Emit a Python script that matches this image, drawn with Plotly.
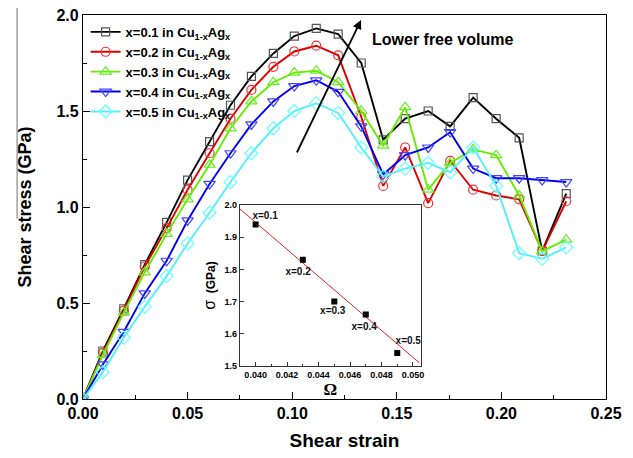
import plotly.graph_objects as go

# ---------------- data ----------------
strain = [0.0, 0.0095, 0.0195, 0.0295, 0.0400, 0.0500, 0.0605, 0.0705, 0.0805, 0.0910,
          0.1010, 0.1115, 0.1220, 0.1330, 0.1435, 0.1540, 0.1650, 0.1755, 0.1865, 0.1975,
          0.2085, 0.2195, 0.2310]

stress_01 = [0.0, 0.25, 0.47, 0.70, 0.92, 1.14, 1.34, 1.53, 1.68, 1.80, 1.89, 1.93, 1.90,
             1.75, 1.35, 1.46, 1.50, 1.42, 1.57, 1.46, 1.36, 0.77, 1.07]
stress_02 = [0.0, 0.24, 0.46, 0.69, 0.89, 1.09, 1.28, 1.46, 1.61, 1.73, 1.81, 1.84, 1.79,
             1.47, 1.11, 1.31, 1.02, 1.24, 1.09, 1.06, 1.04, 0.77, 1.03]
stress_03 = [0.0, 0.23, 0.45, 0.66, 0.86, 1.04, 1.22, 1.41, 1.55, 1.65, 1.70, 1.71, 1.65,
             1.50, 1.32, 1.52, 1.09, 1.23, 1.30, 1.27, 1.06, 0.77, 0.83]
stress_04 = [0.0, 0.18, 0.35, 0.55, 0.72, 0.93, 1.12, 1.28, 1.43, 1.55, 1.63, 1.66, 1.60,
             1.42, 1.17, 1.27, 1.31, 1.39, 1.20, 1.15, 1.15, 1.14, 1.13]
stress_05 = [0.0, 0.14, 0.32, 0.48, 0.64, 0.81, 0.97, 1.13, 1.28, 1.41, 1.50, 1.54, 1.49,
             1.31, 1.16, 1.20, 1.23, 1.18, 1.31, 1.11, 0.76, 0.73, 0.79]

series_names = ["x=0.1 in Cu<sub>1-x</sub>Ag<sub>x</sub>",
                "x=0.2 in Cu<sub>1-x</sub>Ag<sub>x</sub>",
                "x=0.3 in Cu<sub>1-x</sub>Ag<sub>x</sub>",
                "x=0.4 in Cu<sub>1-x</sub>Ag<sub>x</sub>",
                "x=0.5 in Cu<sub>1-x</sub>Ag<sub>x</sub>"]

# inset data
omega = [0.040, 0.043, 0.045, 0.047, 0.049]
sigma = [1.94, 1.83, 1.70, 1.66, 1.54]
inset_labels = ["x=0.1", "x=0.2", "x=0.3", "x=0.4", "x=0.5"]
inset_label_x = [0.0406, 0.0427, 0.0449, 0.0469, 0.0497]
inset_label_y = [1.966, 1.789, 1.668, 1.620, 1.575]
fit_x = [0.0390, 0.0504]
fit_y = [1.988, 1.510]

# ---------------- styles ----------------
FONT = "Arial, 'Liberation Sans', sans-serif"
line_colors = ["#000000", "#dd0000", "#66ee00", "#0000ee", "#55eeff"]
marker_colors = ["#555555", "#ee3333", "#66ee22", "#4444ff", "#66ffff"]
symbols = ["square-open", "circle-open", "triangle-up-open", "triangle-down-open", "diamond-open"]
msizes = [8, 9, 10, 10, 10]

fig = go.Figure()
all_series = [stress_01, stress_02, stress_03, stress_04, stress_05]
for i, ys in enumerate(all_series):
    fig.add_trace(go.Scatter(
        x=strain, y=ys, mode="lines+markers", name=series_names[i],
        line=dict(color=line_colors[i], width=1.9),
        marker=dict(symbol=symbols[i], size=msizes[i],
                    color=marker_colors[i], line=dict(color=marker_colors[i], width=1.2)),
        xaxis="x", yaxis="y"))

# inset traces
fig.add_trace(go.Scatter(x=fit_x, y=fit_y, mode="lines", showlegend=False,
                         line=dict(color="#e02020", width=1), xaxis="x2", yaxis="y2"))
fig.add_trace(go.Scatter(x=omega, y=sigma, mode="markers", showlegend=False,
                         marker=dict(symbol="square", size=6, color="black"),
                         xaxis="x2", yaxis="y2"))
fig.add_trace(go.Scatter(x=inset_label_x, y=inset_label_y, mode="text", text=inset_labels,
                         showlegend=False,
                         textfont=dict(family=FONT, size=10, color="#111", weight="bold"),
                         xaxis="x2", yaxis="y2"))

axis_common = dict(showline=True, linecolor="black", linewidth=1.2, mirror=True,
                   showgrid=False, zeroline=False, ticks="inside", tickcolor="black",
                   automargin=False, ticklabeloverflow="allow")

fig.update_layout(
    width=633, height=458,
    margin=dict(l=83, r=27, t=15, b=59),
    paper_bgcolor="white", plot_bgcolor="white",
    font=dict(family=FONT, color="black"),
    xaxis=dict(**axis_common, range=[0, 0.25], tickvals=[0, 0.05, 0.10, 0.15, 0.20, 0.25],
               ticktext=["0.00", "0.05", "0.10", "0.15", "0.20", "0.25"],
               ticklen=7, tickwidth=1.2,
               minor=dict(ticks="inside", ticklen=4, dtick=0.025, tickcolor="black"),
               tickfont=dict(size=16, family=FONT, weight="bold"),
               title=dict(text="<b>Shear strain</b>", font=dict(size=19, family=FONT), standoff=12),
               domain=[0, 1], anchor="y"),
    yaxis=dict(**axis_common, range=[0, 2.0], tickvals=[0, 0.5, 1.0, 1.5, 2.0],
               ticktext=["0.0", "0.5", "1.0", "1.5", "2.0"],
               ticklen=7, tickwidth=1.2,
               minor=dict(ticks="inside", ticklen=4, dtick=0.25, tickcolor="black"),
               tickfont=dict(size=16, family=FONT, weight="bold"),
               title=dict(text="<b>Shear stress (GPa)</b>", font=dict(size=18, family=FONT), standoff=20),
               domain=[0, 1], anchor="x"),
    xaxis2=dict(showline=True, linecolor="#333", linewidth=1, mirror=True, showgrid=False,
                zeroline=False, ticks="inside", ticklen=4, tickcolor="#333", automargin=False,
                range=[0.0390, 0.0505], tickvals=[0.040, 0.042, 0.044, 0.046, 0.048, 0.050],
                ticktext=["0.040", "0.042", "0.044", "0.046", "0.048", "0.050"],
                minor=dict(ticks="inside", ticklen=2, dtick=0.001, tickcolor="#333"),
                tickfont=dict(size=9, family=FONT, weight="bold"),
                title=dict(text="<b>Ω</b>", font=dict(size=17, family="'Liberation Serif', serif"), standoff=4),
                domain=[0.300, 0.646], anchor="y2"),
    yaxis2=dict(showline=True, linecolor="#333", linewidth=1, mirror=True, showgrid=False,
                zeroline=False, ticks="inside", ticklen=4, tickcolor="#333", automargin=False,
                range=[1.5, 2.0], tickvals=[1.5, 1.6, 1.7, 1.8, 1.9, 2.0],
                ticktext=["1.5", "1.6", "1.7", "1.8", "1.9", "2.0"],
                tickfont=dict(size=9, family=FONT, weight="bold"),
                title=dict(text="<span style='font-size:16px'>σ</span>  <b>(GPa)</b>",
                           font=dict(size=12, family=FONT), standoff=6),
                domain=[0.086, 0.505], anchor="x2"),
    legend=dict(x=0.005, y=0.995, xanchor="left", yanchor="top",
                bgcolor="rgba(0,0,0,0)", borderwidth=0,
                font=dict(size=13, family=FONT, weight="bold"),
                tracegroupgap=0, itemwidth=30),
    showlegend=True,
)

# arrow + label
fig.add_annotation(x=0.1329, y=1.974, ax=0.1019, ay=1.276, xref="x", yref="y",
                   axref="x", ayref="y", showarrow=True, arrowhead=2, arrowsize=1,
                   arrowwidth=1.8, arrowcolor="black", text="")
fig.add_annotation(x=0.137, y=1.87, xref="x", yref="y", text="<b>Lower free volume</b>",
                   showarrow=False, xanchor="left", yanchor="middle",
                   font=dict(size=16, family=FONT, color="black"))

# thin gray artifact line at far left of the original image (drawn as a headless arrow)
fig.add_annotation(x=-0.126, y=1.018, xref="paper", yref="paper", ax=0, ay=212,
                   showarrow=True, arrowhead=0, arrowwidth=1.2, arrowcolor="#888888",
                   text="", standoff=0, startstandoff=0)

# remove the default 8px page margin so the figure sits at the window's top-left corner
fig.write_html("out.html",
               config={"displayModeBar": False},
               post_script="document.body.style.margin='0';document.body.style.padding='0';"
                           "document.body.style.overflow='hidden';")
